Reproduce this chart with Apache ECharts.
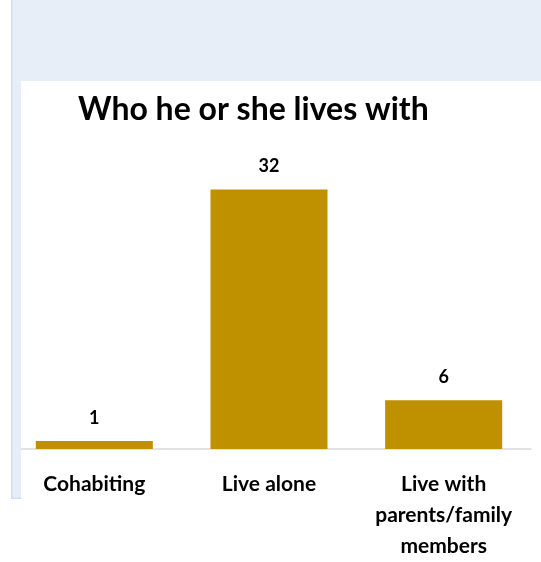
<!DOCTYPE html>
<html>
<head>
<meta charset="utf-8">
<script src="https://cdn.jsdelivr.net/npm/echarts@6/dist/echarts.min.js"></script>
<style>
html,body{margin:0;padding:0;background:#fff;}
#chart{width:541px;height:562px;}
</style>
</head>
<body>
<div id="chart"></div>
<script>
const categories = ['Cohabiting', 'Live alone', 'Live with\nparents/family\nmembers'];
const values = [1, 32, 6];
const chartTitle = 'Who he or she lives with';

const chart = echarts.init(document.getElementById('chart'), null, {renderer: 'canvas'});
chart.setOption({
  backgroundColor: '#ffffff',
  animation: false,
  title: {
    text: chartTitle,
    left: 73,
    top: 89,
    textStyle: {fontFamily: 'Lato', fontWeight: 'bold', fontSize: 32, color: '#000000'}
  },
  grid: {left: 7, width: 524, top: 157, height: 298, containLabel: false},
  xAxis: {
    type: 'category',
    data: categories,
    axisLine: {show: true, lineStyle: {color: '#D9D9D9', width: 1.5}},
    axisTick: {show: false},
    axisLabel: {
      interval: 0,
      margin: 20,
      fontFamily: 'Lato',
      fontWeight: 'bold',
      fontSize: 21,
      lineHeight: 31,
      color: '#000000'
    }
  },
  yAxis: {
    type: 'value',
    min: 0,
    max: 36,
    show: false,
    splitLine: {show: false}
  },
  series: [{
    type: 'bar',
    data: values,
    barCategoryGap: '33%',
    itemStyle: {color: '#BF9000'},
    label: {
      show: true,
      position: 'top',
      distance: 14,
      fontFamily: 'Lato',
      fontWeight: 'bold',
      fontSize: 18,
      color: '#000000'
    }
  }],
  graphic: [
    {type: 'rect', z: 100, silent: true, shape: {x: 0, y: 0, width: 11, height: 562}, style: {fill: '#ffffff'}},
    {type: 'rect', z: 100, silent: true, shape: {x: 11, y: 0, width: 530, height: 81}, style: {fill: '#E8EEF8'}},
    {type: 'rect', z: 100, silent: true, shape: {x: 11, y: 0, width: 10, height: 499}, style: {fill: '#E8EEF8'}},
    {type: 'rect', z: 101, silent: true, shape: {x: 11, y: 0, width: 1.5, height: 499}, style: {fill: '#D3DDEF'}},
    {type: 'rect', z: 101, silent: true, shape: {x: 11, y: 497.5, width: 10, height: 1.5}, style: {fill: '#D3DDEF'}}
  ]
});
</script>
</body>
</html>
